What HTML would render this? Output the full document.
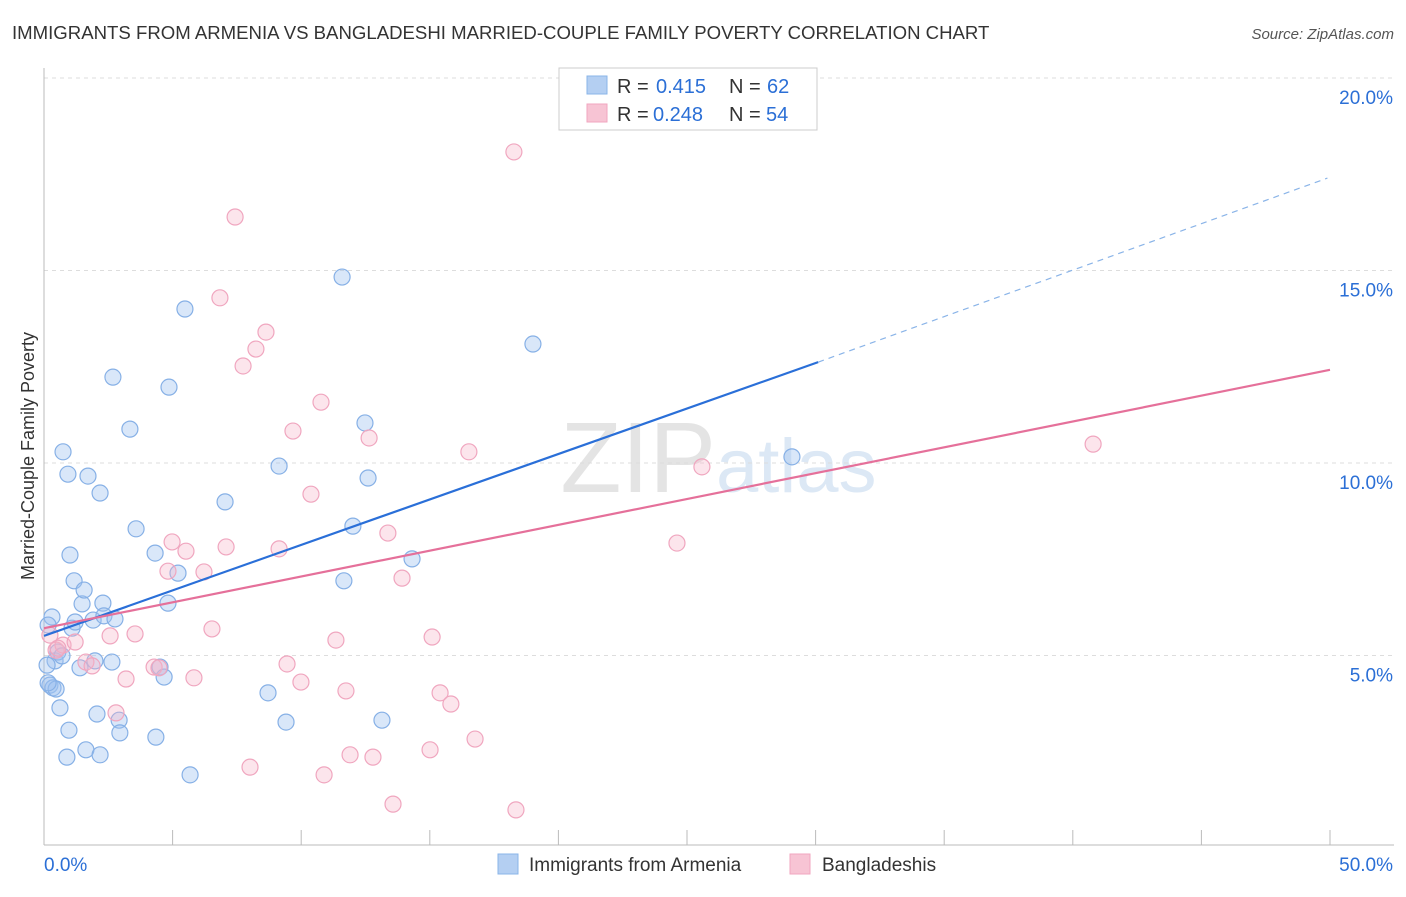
<!DOCTYPE html>
<html><head><meta charset="utf-8"><style>
body{margin:0;background:#fff;font-family:"Liberation Sans",sans-serif}
svg text{font-family:"Liberation Sans",sans-serif}
</style></head><body>
<svg id="c" width="1406" height="892">
<text x="12" y="39" font-size="18.6" fill="#333">IMMIGRANTS FROM ARMENIA VS BANGLADESHI MARRIED-COUPLE FAMILY POVERTY CORRELATION CHART</text>
<text x="1394" y="39" font-size="15" fill="#555" font-style="italic" text-anchor="end">Source: ZipAtlas.com</text>
<text x="716" y="492" font-size="100" fill="#e4e4e4" font-family="Liberation Serif" text-anchor="end">ZIP</text>
<text x="716" y="492" font-size="76" fill="#dce8f5">atlas</text>
<text transform="translate(34,456) rotate(-90)" font-size="18" fill="#333" text-anchor="middle">Married-Couple Family Poverty</text>
<g id="grid"></g><g id="pts"></g><g id="lines"></g>
<rect x="559" y="68" width="258" height="62" fill="#fff" stroke="#ccc"/>
<rect x="587" y="76" width="20" height="18" fill="#b4cff2" stroke="#8ab4e8"/>
<rect x="587" y="104" width="20" height="18" fill="#f7c4d4" stroke="#f0a6bf"/>
<g font-size="20">
<text x="617" y="93" fill="#333">R =</text><text x="656" y="93" fill="#2b6fd6">0.415</text><text x="729" y="93" fill="#333">N =</text><text x="767" y="93" fill="#2b6fd6">62</text></g>
<g font-size="20">
<text x="617" y="121" fill="#333">R =</text><text x="653" y="121" fill="#2b6fd6">0.248</text><text x="729" y="121" fill="#333">N =</text><text x="766" y="121" fill="#2b6fd6">54</text></g>
<rect x="498" y="854" width="20" height="20" fill="#b4cff2" stroke="#8ab4e8"/>
<text x="529" y="871" font-size="19" fill="#333">Immigrants from Armenia</text>
<rect x="790" y="854" width="20" height="20" fill="#f7c4d4" stroke="#f0a6bf"/>
<text x="822" y="871" font-size="19" fill="#333">Bangladeshis</text>
</svg>
<script>
const yTicks=[5,10,15,20];
const yTickLabels=["5.0%","10.0%","15.0%","20.0%"];
const xTicks=[0,5,10,15,20,25,30,35,40,45,50];
const blueX=[0.31,0.16,0.43,0.54,0.23,0.35,0.47,0.62,0.74,0.93,1.01,1.17,1.09,1.21,1.48,1.56,1.71,1.91,1.98,1.40,2.06,2.18,2.29,2.33,2.64,2.68,2.76,2.92,2.95,3.34,3.58,4.32,4.35,4.51,4.67,4.82,4.86,5.21,5.48,5.68,7.04,8.71,9.14,9.41,11.59,11.66,12.01,12.48,12.60,13.14,14.31,19.01,29.08,0.97,0.89,1.63,2.18,0.16,0.12,0.70];
const blueY=[6.0,5.79,4.86,5.09,4.23,4.16,4.13,3.64,10.29,9.71,7.61,6.94,5.71,5.87,6.34,6.70,9.66,5.92,4.86,4.68,3.48,9.22,6.36,6.03,4.83,12.23,5.95,3.32,2.99,10.88,8.29,7.66,2.88,4.70,4.44,6.36,11.97,7.14,14.0,1.90,8.99,4.03,9.92,3.27,14.83,6.94,8.36,11.04,9.61,3.32,7.51,13.09,10.16,3.06,2.36,2.55,2.42,4.29,4.75,4.99];
const pinkX=[18.27,26.21,7.43,6.84,8.63,8.24,7.74,10.77,9.68,12.64,16.52,10.38,25.58,40.79,24.61,13.37,7.08,9.14,4.98,5.52,4.82,6.22,13.92,3.54,2.57,6.53,15.09,11.35,9.45,9.99,4.28,4.47,5.83,3.19,11.74,15.40,15.82,16.76,15.01,11.90,12.79,8.01,10.89,13.57,18.35,2.80,1.63,1.87,0.47,0.74,1.21,0.23,0.54];
const pinkY=[18.08,18.94,16.39,14.29,13.40,12.96,12.52,11.58,10.83,10.65,10.29,9.19,9.90,10.49,7.92,8.18,7.82,7.77,7.95,7.71,7.19,7.17,7.01,5.56,5.51,5.69,5.48,5.40,4.78,4.31,4.70,4.68,4.42,4.39,4.08,4.03,3.74,2.83,2.55,2.42,2.36,2.10,1.90,1.14,0.99,3.51,4.83,4.73,5.14,5.27,5.35,5.53,5.19];
const blueFit=[[0,5.51],[30.1,12.62],[49.9,17.4]];
const pinkFit=[[0,5.71],[50,12.42]];
const NS="http://www.w3.org/2000/svg";
const X=v=>44+v*25.72, Y=v=>848-v*38.5;
function mk(t,a,p){const e=document.createElementNS(NS,t);for(const k in a)e.setAttribute(k,a[k]);p.appendChild(e);return e;}
const g=document.getElementById('grid');
yTicks.forEach((t,i)=>{
 const l=mk('line',{x1:44,x2:1394,y1:Y(t),y2:Y(t),stroke:'#ddd','stroke-dasharray':'4,4'},g);
 
 
 const tx=mk('text',{x:1393,y:Y(t)+26,'font-size':19,fill:'#2b6fd6','text-anchor':'end'},g);
 tx.textContent=yTickLabels[i];
 
 
});
const ax=mk('line',{x1:44,x2:44,y1:68,y2:845,stroke:'#bbb'},g);


const bx=mk('line',{x1:44,x2:1394,y1:845,y2:845,stroke:'#bbb'},g);


xTicks.forEach(t=>{const l=mk('line',{x1:X(t),x2:X(t),y1:830,y2:845,stroke:'#bbb'},g);
 
 });
[[0,"0.0%","start",44],[50,"50.0%","end",1393]].forEach(d=>{const tx=mk('text',{x:d[3],y:871,'font-size':19,fill:'#2b6fd6','text-anchor':d[2]},g);tx.textContent=d[1];
 
 });
const p=document.getElementById('pts');
blueX.forEach((v,i)=>{const c=mk('circle',{cx:X(v),cy:Y(blueY[i]),r:8,fill:'rgba(160,196,240,0.4)',stroke:'#86b0e6','stroke-width':1.2},p);
 
 });
pinkX.forEach((v,i)=>{const c=mk('circle',{cx:X(v),cy:Y(pinkY[i]),r:8,fill:'rgba(245,180,200,0.35)',stroke:'#f0a6bf','stroke-width':1.2},p);
 
 });
const L=document.getElementById('lines');
const b1=mk('line',{x1:X(blueFit[0][0]),y1:Y(blueFit[0][1]),x2:X(blueFit[1][0]),y2:Y(blueFit[1][1]),stroke:'#2a6fd8','stroke-width':2.2},L);


const b2=mk('line',{x1:X(blueFit[1][0]),y1:Y(blueFit[1][1]),x2:X(blueFit[2][0]),y2:Y(blueFit[2][1]),stroke:'#8ab4e8','stroke-width':1.2,'stroke-dasharray':'6,5'},L);


const p1=mk('line',{x1:X(pinkFit[0][0]),y1:Y(pinkFit[0][1]),x2:X(pinkFit[1][0]),y2:Y(pinkFit[1][1]),stroke:'#e5709a','stroke-width':2.2},L);


</script>
</body></html>
